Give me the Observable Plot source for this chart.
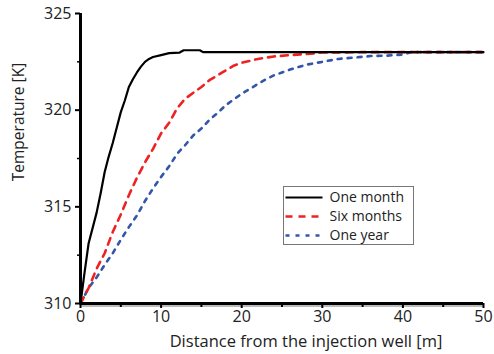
<!DOCTYPE html>
<html>
<head>
<meta charset="utf-8">
<script src="https://cdn.jsdelivr.net/npm/d3@7"></script>
<script src="https://cdn.jsdelivr.net/npm/@observablehq/plot@0.6"></script>
<style>
  html, body { margin: 0; padding: 0; background: #fff; }
  #chart svg { display: block; }
</style>
</head>
<body>
<div id="chart"></div>
<script>
const seriesNames = ["One month", "Six months", "One year"];
const seriesColors = ["#000000", "#ee2222", "#3355aa"];

const monthX = [0, 0.5, 1, 1.5, 2, 2.5, 3, 3.5, 4, 4.5, 5, 5.5, 6, 6.5, 7, 7.5, 8, 8.5, 9, 10, 11, 12.3, 12.8, 14.8, 15.2, 20, 30, 40, 50];
const monthY = [310, 311.6, 313.1, 313.9, 314.7, 315.7, 316.8, 317.6, 318.3, 319.1, 319.9, 320.5, 321.2, 321.6, 321.95, 322.25, 322.5, 322.65, 322.75, 322.85, 322.95, 322.98, 323.1, 323.1, 323.0, 323.0, 323.0, 323.0, 323.0];

const sixX = [0, 1, 2, 3, 4, 5, 6, 7, 8, 9, 10, 11, 12, 13, 14, 15, 16, 17, 18, 19, 20, 22, 24, 26, 28, 30, 35, 40, 50];
const sixY = [310, 310.8, 311.8, 312.6, 313.7, 314.6, 315.6, 316.5, 317.3, 318.0, 318.8, 319.35, 320.1, 320.6, 320.9, 321.2, 321.55, 321.8, 322.05, 322.3, 322.45, 322.65, 322.78, 322.85, 322.9, 322.98, 323.0, 323.0, 323.0];

const yearX = [0, 1, 2, 3, 4, 5, 6, 7, 8, 9, 10, 11, 12, 13, 14, 15, 16, 17, 18, 19, 20, 21, 22, 23, 24, 25, 26, 28, 30, 32, 34, 36, 38, 40, 41, 50];
const yearY = [310, 310.8, 311.35, 312.0, 312.6, 313.3, 313.95, 314.55, 315.3, 315.95, 316.55, 317.1, 317.75, 318.2, 318.7, 319.05, 319.5, 319.85, 320.25, 320.55, 320.85, 321.1, 321.35, 321.6, 321.8, 321.95, 322.1, 322.35, 322.5, 322.65, 322.72, 322.8, 322.82, 322.88, 323.0, 323.0];

const xTicks = [0, 10, 20, 30, 40, 50];
const xMinor = [5, 15, 25, 35, 45];
const yTicks = [310, 315, 320, 325];
const yMinor = [312.5, 317.5, 322.5];

const toRows = (xs, ys, name) => xs.map((x, i) => ({x, y: ys[i], series: name}));
const month = toRows(monthX, monthY, seriesNames[0]);
const six = toRows(sixX, sixY, seriesNames[1]);
const year = toRows(yearX, yearY, seriesNames[2]);

const plot = Plot.plot({
  width: 494,
  height: 354,
  marginLeft: 80,
  marginRight: 11,
  marginTop: 13,
  marginBottom: 51,
  style: {fontFamily: "Open Sans", fontSize: "15px", color: "#222", background: "#fff"},
  x: {type: "linear", domain: [0, 50]},
  y: {type: "linear", domain: [310, 325]},
  marks: [
    Plot.ruleY([310], {stroke: "#bbb", strokeWidth: 2, dy: 2.5}),
    Plot.line(year, {x: "x", y: "y", stroke: seriesColors[2], strokeWidth: 2.6, strokeDasharray: "4,6"}),
    Plot.line(six, {x: "x", y: "y", stroke: seriesColors[1], strokeWidth: 2.6, strokeDasharray: "7,6"}),
    Plot.line(month, {x: "x", y: "y", stroke: seriesColors[0], strokeWidth: 2.2}),
    Plot.ruleY([310], {stroke: "#000", strokeWidth: 3}),
    Plot.ruleX([0], {stroke: "#000", strokeWidth: 3}),
    Plot.axisX({ticks: xTicks, tickSize: 5, strokeWidth: 2, tickPadding: 2, fontSize: 16, label: null, stroke: "#000"}),
    Plot.axisX({ticks: xMinor, tickSize: 4, strokeWidth: 2, tickFormat: () => "", label: null, stroke: "#000"}),
    Plot.axisY({ticks: yTicks, tickSize: 5, strokeWidth: 2, tickPadding: 4, fontSize: 16, label: null, stroke: "#000"}),
    Plot.axisY({ticks: yMinor, tickSize: 3, strokeWidth: 1.5, tickFormat: () => "", label: null, stroke: "#000"})
  ]
});

const svg = d3.select(plot);

// axis labels
svg.append("text")
  .attr("x", 306).attr("y", 347)
  .attr("text-anchor", "middle")
  .style("font-family", "Open Sans").style("font-size", "16.5px").attr("fill", "#222")
  .text("Distance from the injection well [m]");
svg.append("text")
  .attr("transform", "translate(24,122) rotate(-90)")
  .attr("text-anchor", "middle")
  .style("font-family", "Open Sans").style("font-size", "15.5px").attr("fill", "#222")
  .text("Temperature [K]");

// legend
const lg = svg.append("g").attr("transform", "translate(283.5,186.5)");
lg.append("rect").attr("width", 130).attr("height", 58)
  .attr("fill", "#fff").attr("stroke", "#777").attr("stroke-width", 1);
const dashes = [null, "7,6", "4,6"];
const widths = [2.2, 2.6, 2.6];
seriesNames.forEach((name, i) => {
  const yy = 11 + i * 19;
  lg.append("line").attr("x1", 2).attr("x2", 39).attr("y1", yy).attr("y2", yy)
    .attr("stroke", seriesColors[i]).attr("stroke-width", widths[i])
    .attr("stroke-dasharray", dashes[i]);
  lg.append("text").attr("x", 46).attr("y", yy).attr("dy", "0.35em")
    .attr("text-anchor", "start")
    .style("font-family", "Open Sans").style("font-size", "14px").attr("fill", "#222")
    .text(name);
});

document.getElementById("chart").appendChild(plot);
</script>
</body>
</html>
